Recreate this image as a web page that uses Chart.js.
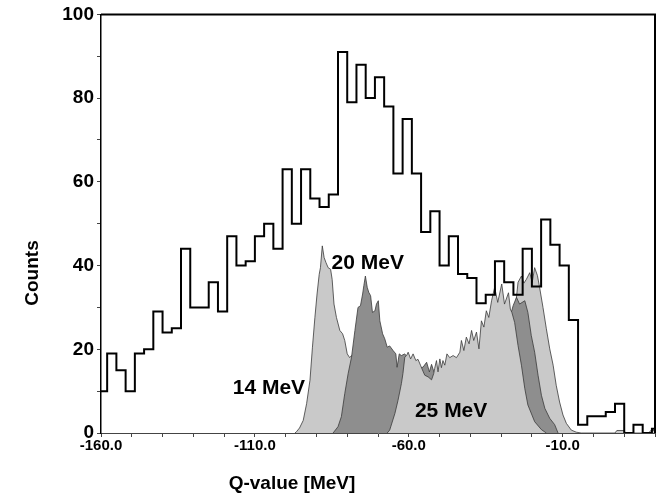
<!DOCTYPE html>
<html>
<head>
<meta charset="utf-8">
<title>Q-value spectrum</title>
<script src="https://cdn.jsdelivr.net/npm/chart.js@4.4.1/dist/chart.umd.min.js"></script>
<style>
    html, body { margin: 0; padding: 0; background: #fff; }
</style>
</head>
<body>
<canvas id="chart" width="666" height="499"></canvas>
<script>
// Measured spectrum: left edge of each 3 MeV bin and the counts in it
const binEdges = [-161, -158, -155, -152, -149, -146, -143, -140, -137, -134,
    -131, -128, -125, -122, -119, -116, -113, -110, -107, -104,
    -101, -98, -95, -92, -89, -86, -83, -80, -77, -74,
    -71, -68, -65, -62, -59, -56, -53, -50, -47, -44,
    -41, -38, -35, -32, -29, -26, -23, -20, -17, -14,
    -11, -8, -5, -2, 1, 4, 7, 10, 13, 16, 19];
const binCounts = [10, 19, 15, 10, 19, 20, 29, 24, 25, 44,
    30, 30, 36, 29, 47, 40, 41, 47, 50, 44,
    63, 50, 63, 56, 54, 57, 91, 79, 88, 80,
    85, 78, 62, 75, 62, 48, 53, 40, 47, 38,
    37, 31, 33, 41, 36, 33, 44, 35, 51, 45,
    40, 27, 2, 4, 4, 5, 7, 0, 2, 0, 1];
const lastBinEnd = 22;

// Simulated distributions for the three beam energies (Q-value, counts)
const sim14X = [-97, -96.5, -95.5, -94.3, -93.2, -92.1, -91.3, -90.5, -89.8, -89.1,
    -88.7, -88.1, -87.5, -86.9, -86.2, -85.4, -84.9, -84.3, -83.5, -82.4,
    -81.5, -80.8, -80.0, -79.2, -78.6, -77, -74, -70, -65, -60,
    -55, -50, -45, -40, -35, -30, -27, -25.5, -24.5, -23.4,
    -22.6, -21.8, -20.7, -19.9, -19.1, -18.2, -17.5, -16.4, -15.3, -14.2,
    -13.1, -12.1, -11, -9.9, -8.8, -7.2, -5.6, -4, 7, 7.6,
    9.9, 10.5, 18, 18.6, 20];
const sim14Y = [0, 0.3, 1.2, 3, 7, 12.6, 20.5, 27.6, 33.2, 37.9,
    39.5, 44.7, 41.9, 40.7, 39.5, 39.1, 36.7, 30.8, 27.6, 24.5,
    23.7, 22.1, 18.9, 18.0, 18.5, 17, 14, 12, 11, 10,
    10, 11, 13, 15, 20, 24, 27, 29, 36, 37.5,
    35.8, 36.7, 38.3, 36, 39.5, 37.6, 34.8, 30, 24.9, 20.1,
    16.2, 11.4, 7.4, 4.3, 2.3, 0.7, 0.2, 0, 0, 0.6,
    0.6, 0, 0, 0.6, 0.6];

const sim20X = [-84.6, -83, -81.9, -80.8, -79.7, -78.6, -77.5, -76.5, -75.7, -75,
    -74.6, -74.1, -73.5, -73, -72.4, -71.8, -71, -70.5, -69.9, -69.4,
    -68.5, -67.8, -67, -66.2, -65.1, -64.2, -63.8, -63.1, -62.4, -61.3,
    -60.7, -59, -57, -56, -55.3, -54.2, -53.3, -52.6, -52, -51,
    -48, -44, -40, -36, -32, -28.5, -27, -26.1, -25, -24,
    -22.3, -21.3, -20.2, -19.1, -18, -16.9, -15.8, -14.2, -12.6, -11.5];
const sim20Y = [0, 1.5, 3.9, 9.4, 14.2, 18.1, 24.5, 30, 30.4, 33.2,
    35.2, 37.5, 34.8, 33.6, 32.8, 28.8, 29.2, 30.8, 31.6, 26.8,
    23.7, 22.5, 20.5, 20.8, 19.7, 18.9, 15.7, 18.9, 18.5, 18.9,
    18.3, 17, 16, 15.5, 15.8, 16.9, 14.6, 16.4, 15.0, 13.5,
    13, 14, 16, 18, 22, 26, 28, 30.4, 32.4, 30.8,
    31.6, 28.8, 23.3, 19.3, 13.8, 9, 5.9, 3.5, 2, 0];

const sim25X = [-67, -66.2, -64.5, -63.5, -62.4, -61.9, -61.3, -60.7, -60.2, -59.4,
    -58.6, -57.7, -57, -56.2, -55.4, -54.8, -53.7, -52.6, -51.9, -51.6,
    -51.0, -50.5, -49.9, -49.4, -48.9, -48.3, -47.6, -46.7, -45.6, -44.5,
    -43.4, -42.9, -42.1, -41.3, -40.4, -39.6, -38.9, -38, -37.2, -36.4,
    -35.6, -34.8, -34, -33.1, -32.1, -31.1, -29.8, -28.9, -27.6, -27,
    -26.5, -25.6, -24.5, -23.4, -22.3, -21.3, -19.1, -16.9, -15.3];
const sim25Y = [0, 0.7, 4.7, 7.8, 11.8, 14.2, 18.1, 18.5, 19.3, 17.7,
    18.9, 17.3, 17.6, 16.2, 14.8, 13.8, 13.4, 12.7, 14.2, 15.4,
    17.3, 14.6, 17.7, 15.6, 17.3, 16.2, 18.9, 18.0, 18.5, 18.0,
    19.3, 22.1, 19.7, 22.9, 21.3, 24.5, 22.1, 24.1, 20.1, 26.8,
    25.3, 29.2, 27.6, 31.6, 34.8, 31.2, 35.6, 30.8, 33.5, 29.6,
    28.8, 26.4, 20.9, 16.2, 10.6, 6.7, 2.7, 0.8, 0];

const curveNames = ['14 MeV', '20 MeV', '25 MeV'];
const xLabelValues = [-160, -110, -60, -10];
const yLabelValues = [0, 20, 40, 60, 80, 100];

const LIGHT = '#c9c9c9';
const DARK = '#8e8e8e';
const EDGE = '#3a3a3a';
const FONT = '"Liberation Sans", Arial, Helvetica, sans-serif';

function toPoints(xs, ys) {
    return xs.map((x, i) => ({ x: x, y: ys[i] }));
}

// Histogram as a step line: each count holds from its left edge to the next edge
const histPoints = toPoints(binEdges, binCounts);
histPoints.push({ x: lastBinEnd, y: binCounts[binCounts.length - 1] });

function simDataset(name, xs, ys, color) {
    return {
        label: name,
        data: toPoints(xs, ys),
        fill: 'origin',
        backgroundColor: color,
        borderColor: EDGE,
        borderWidth: 0.8,
        pointRadius: 0,
        tension: 0
    };
}

// Frame on top/right, curve names and axis titles
const decorPlugin = {
    id: 'decor',
    afterDatasetsDraw(chart) {
        const { ctx, chartArea: a, scales } = chart;
        const xs = scales.x, ys = scales.y;
        ctx.save();
        ctx.strokeStyle = '#000';
        ctx.lineWidth = 2;
        ctx.beginPath();
        ctx.moveTo(a.left, a.top);
        ctx.lineTo(a.right, a.top);
        ctx.lineTo(a.right, a.bottom);
        ctx.stroke();

        // curve names, anchored in data units (left edge, vertical centre)
        const anchors = [[-117.2, 11.2], [-85.1, 40.9], [-58, 5.7]];
        ctx.fillStyle = '#000';
        ctx.font = 'bold 21px ' + FONT;
        ctx.textAlign = 'left';
        ctx.textBaseline = 'alphabetic';
        curveNames.forEach((name, i) => {
            const px = xs.getPixelForValue(anchors[i][0]);
            const py = ys.getPixelForValue(anchors[i][1]);
            ctx.fillText(name, px, py + 7.5);
        });

        // axis titles
        ctx.font = 'bold 19px ' + FONT;
        ctx.textAlign = 'center';
        ctx.fillText('Q-value [MeV]', 292, 489);
        ctx.translate(38, 273);
        ctx.rotate(-Math.PI / 2);
        ctx.fillText('Counts', 0, 0);
        ctx.restore();
    }
};

const ctx = document.getElementById('chart').getContext('2d');
const chart = new Chart(ctx, {
    type: 'line',
    data: {
        datasets: [
            {
                label: 'Data',
                data: histPoints,
                stepped: 'before',
                fill: false,
                borderColor: '#000',
                borderWidth: 2,
                pointRadius: 0
            },
            simDataset(curveNames[2], sim25X, sim25Y, LIGHT),
            simDataset(curveNames[1], sim20X, sim20Y, DARK),
            simDataset(curveNames[0], sim14X, sim14Y, LIGHT)
        ]
    },
    options: {
        responsive: false,
        animation: false,
        devicePixelRatio: 1,
        layout: { padding: { top: 12, right: 11, left: 0, bottom: 0 } },
        plugins: {
            legend: { display: false },
            tooltip: { enabled: false }
        },
        scales: {
            x: {
                type: 'linear',
                min: -160,
                max: 20,
                afterFit: s => { s.height = 66; },
                border: { color: '#444', width: 1 },
                grid: { drawOnChartArea: false, color: '#444', tickLength: 4 },
                ticks: {
                    stepSize: 10,
                    autoSkip: false,
                    maxRotation: 0,
                    padding: 0,
                    color: '#000',
                    font: { family: FONT, size: 15, weight: 'bold' },
                    callback: v => xLabelValues.includes(v) ? v.toFixed(1) : ''
                }
            },
            y: {
                min: 0,
                max: 100,
                afterFit: s => { s.width = 101; },
                border: { color: '#000', width: 1.5 },
                grid: { drawOnChartArea: false, color: '#444', tickLength: 4 },
                ticks: {
                    stepSize: 10,
                    autoSkip: false,
                    padding: 3,
                    color: '#000',
                    font: { family: FONT, size: 19, weight: 'bold' },
                    callback: v => yLabelValues.includes(v) ? String(v) : ''
                }
            }
        }
    },
    plugins: [decorPlugin]
});
</script>
</body>
</html>
